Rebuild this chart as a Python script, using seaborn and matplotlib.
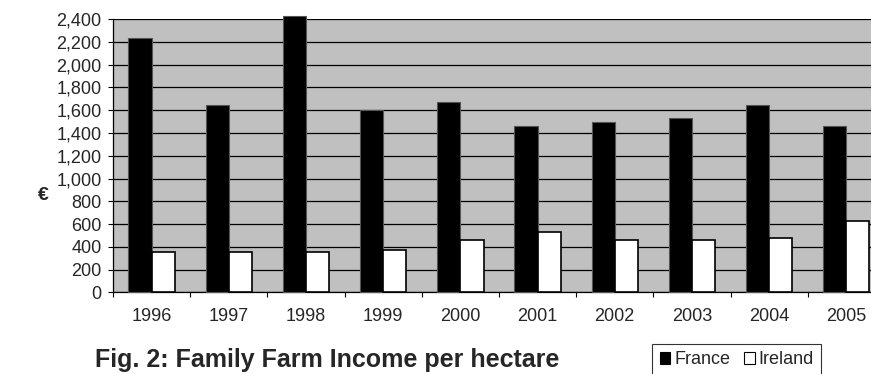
"""Family Farm Income per hectare, France vs Ireland (1996-2005)."""

import matplotlib
matplotlib.use("Agg")
import matplotlib.pyplot as plt
from matplotlib.patches import Patch
from matplotlib.ticker import FuncFormatter, FixedLocator
import pandas as pd
import seaborn as sns

# ---------------------------------------------------------------------------
# Podaci
# ---------------------------------------------------------------------------

years = ["1996", "1997", "1998", "1999", "2000",
         "2001", "2002", "2003", "2004", "2005"]
france = [2235, 1650, 2425, 1600, 1670, 1463, 1497, 1533, 1650, 1463]
ireland = [358, 358, 358, 375, 463, 531, 463, 463, 481, 630]
countries = ["France", "Ireland"]
colors = ["#000000", "#ffffff"]
y_ticks = list(range(0, 2401, 200))

df = pd.DataFrame({
    "year": years * 2,
    "country": [countries[0]] * len(years) + [countries[1]] * len(years),
    "value": france + ireland,
})

sns.set_theme(style="white")
plt.rcParams["font.family"] = ["Liberation Sans", "DejaVu Sans"]

fig = plt.figure(figsize=(8.71, 3.74), dpi=100)
ax = fig.add_axes([0.1297, 0.218, 0.8863, 0.731])
ax.set_facecolor("#c0c0c0")

sns.barplot(data=df, x="year", y="value", hue="country", order=years,
            hue_order=countries, palette=colors, width=0.6, saturation=1,
            ax=ax, legend=False)

for i, p in enumerate(ax.patches):
    if i < len(years):
        p.set_edgecolor("#555555")
        p.set_linewidth(0.8)
    else:
        p.set_edgecolor("#000000")
        p.set_linewidth(1.2)
    p.set_clip_on(False)
    p.set_zorder(3)

ax.set_ylim(0, 2400)
ax.set_xlim(-0.5, len(years) - 0.5)
ax.set_yticks(y_ticks)
ax.yaxis.set_major_formatter(FuncFormatter(lambda v, _: f"{v:,.0f}"))
ax.yaxis.grid(True, color="#000000", linewidth=0.9)
ax.xaxis.grid(False)
ax.set_axisbelow(True)

# tickovi na x osi između kategorija
ax.xaxis.set_minor_locator(FixedLocator([i - 0.5 for i in range(len(years) + 1)]))
ax.tick_params(axis="x", which="major", length=0, pad=11, labelsize=13)
ax.tick_params(axis="x", which="minor", length=3.3, width=0.8, color="black",
               direction="out", bottom=True)
ax.tick_params(axis="y", which="major", length=3.3, width=0.8, color="black",
               direction="out", left=True, pad=5, labelsize=13)

for side in ["top", "right"]:
    ax.spines[side].set_visible(False)
for side in ["left", "bottom"]:
    ax.spines[side].set_color("black")
    ax.spines[side].set_linewidth(0.9)

ax.set_xlabel("")
ax.set_ylabel("")

fig.text(0.050, 0.478, "€", fontsize=14, fontweight="bold",
         ha="center", va="center")
fig.text(0.109, 0.005, "Fig. 2: Family Farm Income per hectare",
         fontsize=18, fontweight="bold", ha="left", va="bottom")

handles = [Patch(facecolor=c, edgecolor="black", linewidth=0.8) for c in colors]
leg = fig.legend(handles, countries, loc="upper left",
                 bbox_to_anchor=(0.749, 0.080), ncol=2, fontsize=13,
                 frameon=True, fancybox=False, handlelength=0.6,
                 handleheight=0.6, handletextpad=0.22, columnspacing=0.75,
                 borderpad=0.4, borderaxespad=0)
leg.get_frame().set_edgecolor("black")
leg.get_frame().set_linewidth(0.8)

fig.savefig("out.png", dpi=100)
plt.close(fig)
